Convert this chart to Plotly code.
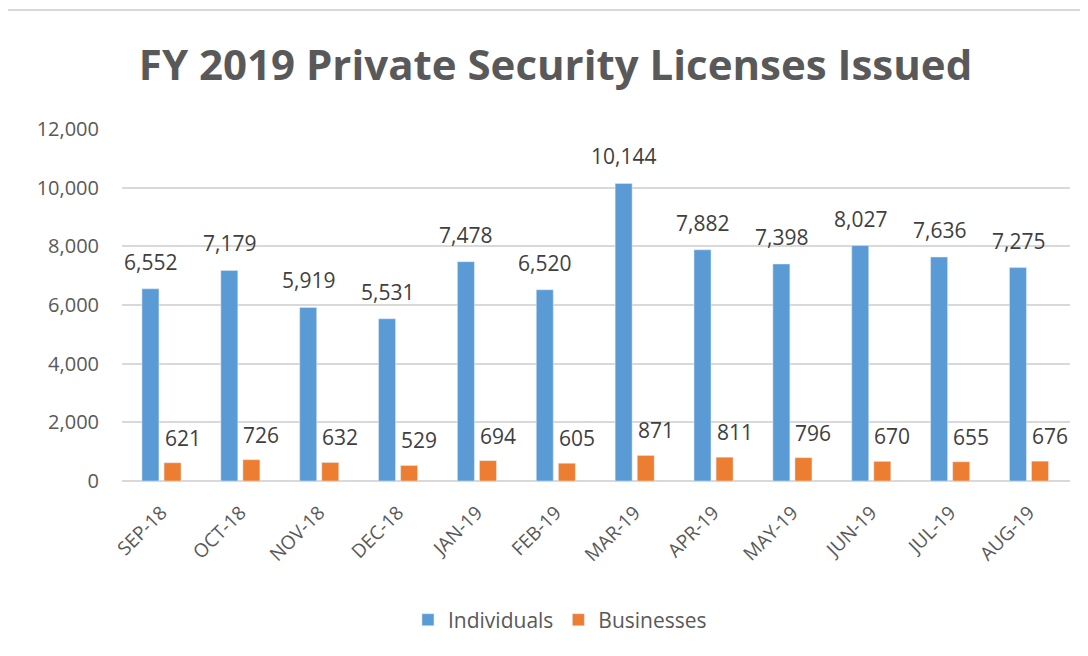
import plotly.graph_objects as go

# data
months = ["SEP-18", "OCT-18", "NOV-18", "DEC-18", "JAN-19", "FEB-19",
          "MAR-19", "APR-19", "MAY-19", "JUN-19", "JUL-19", "AUG-19"]
individuals = [6552, 7179, 5919, 5531, 7478, 6520, 10144, 7882, 7398, 8027, 7636, 7275]
businesses = [621, 726, 632, 529, 694, 605, 871, 811, 796, 670, 655, 676]

FONT = "Open Sans"
GREY = "#595959"
LABEL = "#404040"

fig = go.Figure()
fig.add_trace(go.Bar(x=months, y=individuals, name="Individuals",
                     marker=dict(color="#5B9BD5")))
fig.add_trace(go.Bar(x=months, y=businesses, name="Businesses",
                     marker=dict(color="#ED7D31")))

# data labels, floated above each bar (excel style)
for m, v in zip(months, individuals):
    fig.add_annotation(x=m, y=v, text=f"{v:,}", showarrow=False,
                       xshift=-11, yshift=27, yanchor="middle",
                       font=dict(size=21, color=LABEL, family=FONT))
for m, v in zip(months, businesses):
    fig.add_annotation(x=m, y=v, text=f"{v:,}", showarrow=False,
                       xshift=21, yshift=25, yanchor="middle",
                       font=dict(size=21, color=LABEL, family=FONT))

fig.update_layout(
    width=1080, height=648,
    barmode="group", bargap=0.44, bargroupgap=0.23,
    paper_bgcolor="white", plot_bgcolor="white",
    margin=dict(l=114, r=18, t=121, b=175),
    font=dict(family=FONT, color=GREY),
    title=dict(text="<b>FY 2019 Private Security Licenses Issued</b>",
               x=0.507, xanchor="center", y=0.912, yanchor="middle",
               font=dict(size=42, color=GREY, family=FONT)),
    legend=dict(orientation="h", x=0.462, xanchor="center",
                y=-0.395, yanchor="middle",
                font=dict(size=21, color=GREY)),
)
fig.update_xaxes(tickangle=-45, tickfont=dict(size=19, color=GREY),
                 showgrid=False, showline=False,
                 ticks="outside", ticklen=12, tickcolor="white")
fig.update_yaxes(range=[0, 12000], dtick=2000, tickformat=",",
                 tickfont=dict(size=20, color=GREY),
                 gridcolor="#D9D9D9", gridwidth=1.5,
                 zeroline=True, zerolinecolor="#D9D9D9", zerolinewidth=1.5,
                 showline=False, ticks="outside", ticklen=18, tickcolor="white")

# chart frame
fig.add_shape(type="rect", xref="paper", yref="paper",
              x0=-0.1234, x1=1.2, y0=-0.7, y1=1.338,
              line=dict(color="#D9D9D9", width=2), layer="below")

fig.write_html("out.html")
